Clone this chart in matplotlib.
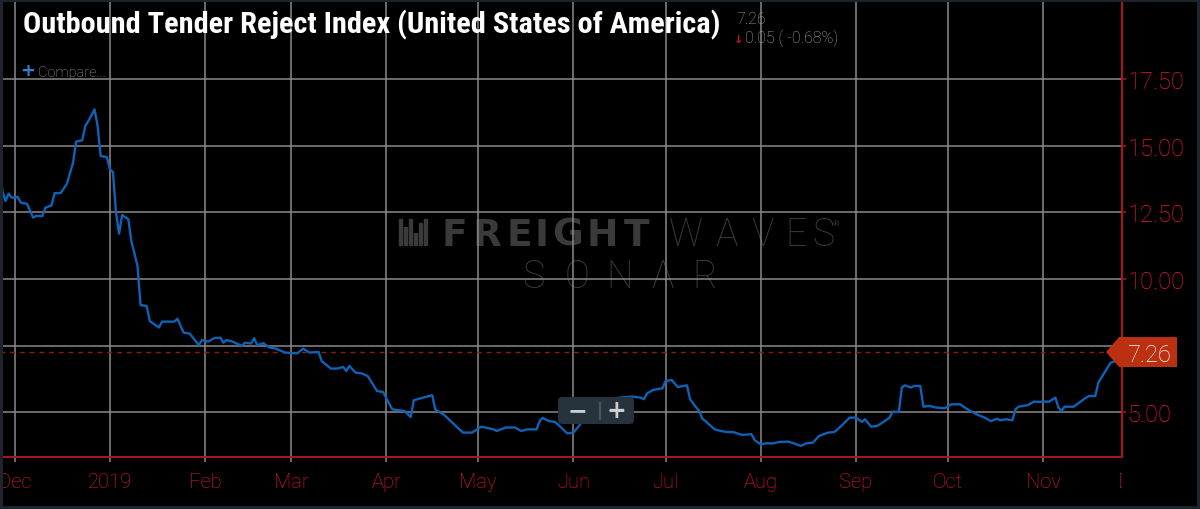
import matplotlib
matplotlib.use('Agg')
import numpy as np
import pandas as pd
import matplotlib.pyplot as plt
import matplotlib.dates as mdates
import matplotlib.transforms as mtransforms
from matplotlib import font_manager as fm
from matplotlib.patches import Polygon, FancyBboxPatch, Rectangle

# data
dates = ['2018-11-26', '2018-11-27', '2018-11-28', '2018-11-29', '2018-11-30',
         '2018-12-02', '2018-12-03', '2018-12-05', '2018-12-07', '2018-12-08',
         '2018-12-10', '2018-12-11', '2018-12-13', '2018-12-14', '2018-12-16',
         '2018-12-18', '2018-12-20', '2018-12-21', '2018-12-23', '2018-12-24',
         '2018-12-25', '2018-12-27', '2018-12-28', '2018-12-29', '2018-12-31',
         '2019-01-01', '2019-01-02', '2019-01-03', '2019-01-04', '2019-01-05',
         '2019-01-07', '2019-01-08', '2019-01-10', '2019-01-11', '2019-01-13',
         '2019-01-14', '2019-01-17', '2019-01-18', '2019-01-22', '2019-01-23',
         '2019-01-25', '2019-01-27', '2019-01-30', '2019-01-31', '2019-02-02',
         '2019-02-04', '2019-02-06', '2019-02-07', '2019-02-08', '2019-02-10',
         '2019-02-13', '2019-02-14', '2019-02-16', '2019-02-17', '2019-02-18',
         '2019-02-20', '2019-02-22', '2019-02-24', '2019-02-27', '2019-03-03',
         '2019-03-05', '2019-03-07', '2019-03-10', '2019-03-11', '2019-03-14',
         '2019-03-16', '2019-03-18', '2019-03-19', '2019-03-20', '2019-03-22',
         '2019-03-24', '2019-03-26', '2019-03-29', '2019-03-31', '2019-04-03',
         '2019-04-07', '2019-04-09', '2019-04-10', '2019-04-13', '2019-04-16',
         '2019-04-17', '2019-04-20', '2019-04-26', '2019-04-29', '2019-05-02',
         '2019-05-06', '2019-05-07', '2019-05-10', '2019-05-13', '2019-05-15',
         '2019-05-17', '2019-05-20', '2019-05-21', '2019-05-22', '2019-05-24',
         '2019-05-26', '2019-05-28', '2019-05-30', '2019-06-01', '2019-06-03',
         '2019-06-06', '2019-06-09', '2019-06-14', '2019-06-17', '2019-06-20',
         '2019-06-23', '2019-06-24', '2019-06-25', '2019-06-27', '2019-06-30',
         '2019-07-01', '2019-07-03', '2019-07-05', '2019-07-08', '2019-07-09',
         '2019-07-11', '2019-07-12', '2019-07-13', '2019-07-14', '2019-07-17',
         '2019-07-19', '2019-07-21', '2019-07-23', '2019-07-26', '2019-07-29',
         '2019-07-30', '2019-08-01', '2019-08-03', '2019-08-05', '2019-08-07',
         '2019-08-10', '2019-08-12', '2019-08-14', '2019-08-16', '2019-08-18',
         '2019-08-20', '2019-08-23', '2019-08-25', '2019-08-27', '2019-08-30',
         '2019-09-01', '2019-09-03', '2019-09-04', '2019-09-06', '2019-09-08',
         '2019-09-10', '2019-09-12', '2019-09-13', '2019-09-15', '2019-09-16',
         '2019-09-17', '2019-09-19', '2019-09-20', '2019-09-22', '2019-09-23',
         '2019-09-25', '2019-09-27', '2019-09-30', '2019-10-02', '2019-10-05',
         '2019-10-07', '2019-10-09', '2019-10-11', '2019-10-13', '2019-10-15',
         '2019-10-17', '2019-10-18', '2019-10-20', '2019-10-22', '2019-10-23',
         '2019-10-24', '2019-10-27', '2019-10-29', '2019-10-31', '2019-11-01',
         '2019-11-03', '2019-11-05', '2019-11-06', '2019-11-07', '2019-11-08',
         '2019-11-11', '2019-11-12', '2019-11-15', '2019-11-16', '2019-11-18',
         '2019-11-19', '2019-11-20', '2019-11-22', '2019-11-23', '2019-11-24',
         '2019-11-25']
values = [14.3, 13.3, 12.92, 13.2, 13.05,
          13.07, 12.86, 12.82, 12.3, 12.36,
          12.36, 12.67, 12.76, 13.22, 13.22,
          13.57, 14.36, 15.15, 15.2, 15.74,
          15.92, 16.36, 15.74, 14.61, 14.57,
          14.11, 14.01, 12.49, 11.7, 12.4,
          12.24, 11.42, 10.49, 9.02, 8.99,
          8.42, 8.18, 8.4, 8.4, 8.51,
          7.99, 7.95, 7.52, 7.71, 7.65,
          7.78, 7.8, 7.61, 7.71, 7.65,
          7.49, 7.61, 7.58, 7.78, 7.52,
          7.59, 7.43, 7.39, 7.24, 7.21,
          7.39, 7.24, 7.26, 6.92, 6.64,
          6.64, 6.7, 6.55, 6.74, 6.49,
          6.46, 6.36, 5.8, 5.76, 5.11,
          5.05, 4.82, 5.45, 5.55, 5.64,
          5.11, 4.89, 4.24, 4.24, 4.46,
          4.36, 4.3, 4.43, 4.43, 4.3,
          4.36, 4.36, 4.67, 4.79, 4.67,
          4.64, 4.43, 4.21, 4.24, 4.51,
          5.11, 5.41, 5.52, 5.56, 5.59,
          5.55, 5.49, 5.71, 5.84, 5.9,
          6.17, 6.21, 5.95, 6.01, 5.49,
          5.18, 5.05, 4.76, 4.67, 4.36,
          4.3, 4.26, 4.26, 4.15, 4.18,
          3.96, 3.8, 3.84, 3.83, 3.89,
          3.9, 3.83, 3.74, 3.84, 3.86,
          4.11, 4.24, 4.26, 4.46, 4.8,
          4.8, 4.64, 4.74, 4.46, 4.49,
          4.64, 4.8, 5.03, 5.01, 5.93,
          6.01, 5.93, 5.99, 5.99, 5.21,
          5.24, 5.18, 5.15, 5.3, 5.3,
          5.14, 5.01, 4.89, 4.8, 4.67,
          4.76, 4.7, 4.74, 4.7, 5.11,
          5.21, 5.27, 5.4, 5.39, 5.4,
          5.4, 5.55, 5.18, 5.05, 5.21,
          5.21, 5.3, 5.55, 5.61, 5.61,
          6.11, 6.3, 6.67, 6.86, 6.9,
          6.92]

tick_dates = ['2018-12-01', '2019-01-01', '2019-02-01', '2019-03-01', '2019-04-01',
              '2019-05-01', '2019-06-01', '2019-07-01', '2019-08-01', '2019-09-01',
              '2019-10-01', '2019-11-01']
tick_labels = ['Dec', '2019', 'Feb', 'Mar', 'Apr', 'May', 'Jun', 'Jul', 'Aug',
               'Sep', 'Oct', 'Nov']
cut_tick_date = '2019-12-01'
cut_tick_label = 'Dec'
y_ticks = [5.0, 7.5, 10.0, 12.5, 15.0, 17.5]

title = 'Outbound Tender Reject Index (United States of America)'
last_value = 7.26
change = 0.05
change_pct = -0.68

RED = '#e8182e'
SPINE = '#b0141e'
GRID = '#8a8a8a'
WM = '#3a3a3a'
W, H = 1200, 510


def pick(names, weight='normal'):
    for n in names:
        try:
            fm.findfont(fm.FontProperties(family=n, weight=weight), fallback_to_default=False)
            return n
        except Exception:
            pass
    return 'DejaVu Sans'


thin = pick(['Roboto', 'Lato', 'Open Sans'], 'light')
cond = pick(['Roboto Condensed', 'Liberation Sans Narrow', 'Roboto'], 'bold')


def fx(px):
    return px / W


def fy(py):
    return 1 - py / H


fig = plt.figure(figsize=(12, 5.1), dpi=100, facecolor='black')
ax = fig.add_axes([0, 52 / H, 1122 / W, 455 / H], facecolor='black')

ax.plot(pd.to_datetime(dates), values, color='#0f62b5', lw=1.7, zorder=3)
ax.axhline(last_value, color='#8a1c10', lw=1, ls=(0, (3.5, 3.5)), zorder=2)

ax.set_xlim(pd.Timestamp('2018-11-26 05:00'), pd.Timestamp('2019-11-26 17:00'))
ax.set_ylim(3.324, 20.385)
ax.set_xticks(pd.to_datetime(tick_dates))
ax.set_xticklabels(tick_labels)
ax.set_yticks(y_ticks)
ax.set_yticklabels(['%.2f' % v for v in y_ticks])
ax.yaxis.tick_right()
ax.grid(True, color=GRID, lw=1.1)
for s in ['left', 'top']:
    ax.spines[s].set_visible(False)
for s in ['right', 'bottom']:
    ax.spines[s].set_color(SPINE)
    ax.spines[s].set_linewidth(1.4)
ax.tick_params(axis='x', color=GRID, labelcolor=RED, length=3.6, width=1.1, pad=7, labelsize=14.5)
ax.tick_params(axis='y', color=SPINE, labelcolor=RED, length=2.9, width=1.1, pad=1.5, labelsize=17)
for lab in ax.get_xticklabels() + ax.get_yticklabels():
    lab.set_fontfamily(thin)
    lab.set_fontweight('light')

# month label past the right edge, cut off like the original
cut = ax.annotate(cut_tick_label, xy=(mdates.date2num(pd.Timestamp(cut_tick_date)), 0),
                  xycoords=ax.get_xaxis_transform(), xytext=(0, -10.6),
                  textcoords='offset points', ha='center', va='top',
                  color=RED, fontsize=14.5, family=thin, weight='light',
                  annotation_clip=False)
cut.set_clip_path(None)
cut.set_clip_box(mtransforms.TransformedBbox(
    mtransforms.Bbox([[0, 0], [1122 / W, 1]]), fig.transFigure))
cut.set_clip_on(True)

# last value tag, drawn over the 7.50 label as in the original
bt = mtransforms.blended_transform_factory(fig.transFigure, ax.transData)
hh = 15 / 26.67
tag = Polygon([(fx(1106), last_value), (fx(1119), last_value + hh),
               (fx(1177), last_value + hh), (fx(1177), last_value - hh),
               (fx(1119), last_value - hh)], closed=True, transform=bt,
              facecolor='#bb3010', edgecolor='none', zorder=6, clip_on=False)
ax.add_artist(tag)
ax.text(fx(1149), last_value, '%.2f' % last_value, transform=bt, ha='center',
        va='center_baseline', color='white', fontsize=17, family=thin,
        weight='light', zorder=7, clip_on=False)

# watermark
logo_x = [399, 404, 409, 414, 419, 424]
logo_h = [26, 18, 26, 12, 22, 26]
for lx, lh in zip(logo_x, logo_h):
    ax.add_artist(Rectangle((lx / 100, (H - 246) / 100), 0.025, lh / 100,
                            transform=fig.dpi_scale_trans, color=WM, zorder=1))
for ch, cx in zip('FREIGHT', [454, 487, 519, 541, 567, 602, 637]):
    ax.text(fx(cx), fy(246), ch, transform=fig.transFigure, ha='center', va='baseline',
            fontsize=27, weight='bold', family='DejaVu Sans', color=WM, zorder=1)
for ch, cx in zip('WAVES', [686, 727, 763, 796, 823]):
    ax.text(fx(cx), fy(246), ch, transform=fig.transFigure, ha='center', va='baseline',
            fontsize=27, weight='light', family='Roboto', color=WM, zorder=1)
ax.text(fx(836), fy(226), '®', transform=fig.transFigure, ha='center', va='baseline',
        fontsize=6, family='Roboto', color=WM, zorder=1)
for ch, cx in zip('SONAR', [533, 577, 620, 663, 705]):
    ax.text(fx(cx), fy(288), ch, transform=fig.transFigure, ha='center', va='baseline',
            fontsize=27, weight='light', family='Roboto', color=WM, zorder=1)

# zoom buttons
fig.add_artist(FancyBboxPatch((5.58, (H - 425) / 100), 0.76, 0.27,
                              boxstyle='round,pad=0,rounding_size=0.04',
                              transform=fig.dpi_scale_trans, facecolor='#26323c',
                              edgecolor='none', zorder=8))
fig.add_artist(Rectangle((5.985, (H - 420) / 100), 0.01, 0.17,
                         transform=fig.dpi_scale_trans, color='#46525c', zorder=9))
fig.text(fx(577), fy(411.5), '−', ha='center', va='center', fontsize=17,
         weight='bold', color='#c9ced2', zorder=10)
fig.text(fx(616), fy(411.5), '+', ha='center', va='center', fontsize=17,
         weight='bold', color='#c9ced2', zorder=10)

# header
tt = fig.text(fx(23), fy(33), title, ha='left', va='baseline', color='white',
              fontsize=18, family=cond, weight='bold')
fig.canvas.draw()
w = tt.get_window_extent(renderer=fig.canvas.get_renderer()).width
tt.set_fontsize(18 * 697 / w)

fig.text(fx(736), fy(24), '%.2f' % last_value, ha='left', va='baseline',
         color='#a5a5a5', fontsize=11.5, family=thin, weight='light')
fig.text(fx(739), fy(43), '↓', ha='center', va='baseline', color='#c8102e',
         fontsize=8, weight='bold')
fig.text(fx(745), fy(43), '%.2f ( %.2f%%)' % (change, change_pct), ha='left',
         va='baseline', color='#a5a5a5', fontsize=11.5, family=thin, weight='light')
fig.text(fx(28), fy(71), '+', ha='center', va='center', color='#2f7fd0',
         fontsize=13, weight='bold')
fig.text(fx(38), fy(77), 'Compare...', ha='left', va='baseline', color='#9a9a9a',
         fontsize=10.5, family=thin, weight='light')

# dark frame round the picture
fig.add_artist(Rectangle((0, 0), 12, 5.1, transform=fig.dpi_scale_trans, fill=False,
                         edgecolor='#1c242d', lw=4.3, zorder=20))

fig.savefig('out.png', dpi=100, facecolor='black')
